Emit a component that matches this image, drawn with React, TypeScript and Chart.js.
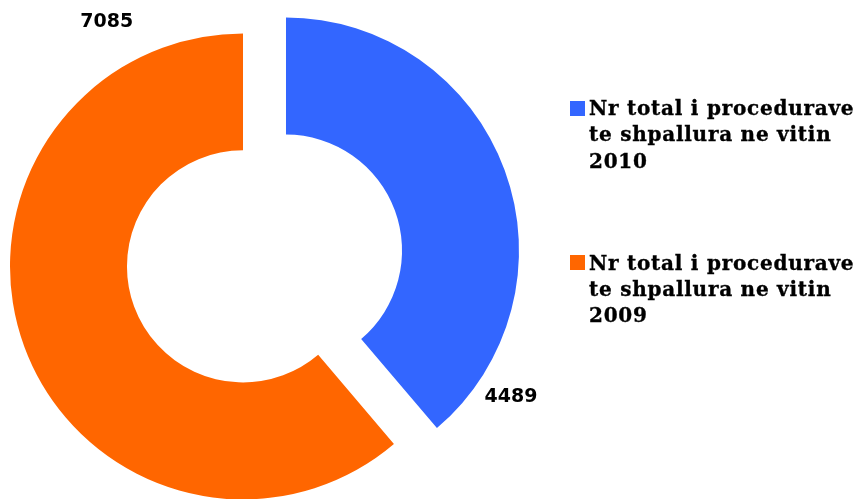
import React, { useEffect, useRef } from "react";
import { Chart, registerables } from "chart.js";

Chart.register(...registerables);

const categories = [
  "Nr total i procedurave te shpallura ne vitin 2010",
  "Nr total i procedurave te shpallura ne vitin 2009",
];
const values = [4489, 7085];
const colors = ["#3366FF", "#FF6600"];

const explodePlugin = {
  id: "explode",
  afterDatasetUpdate(chart: any, args: any, opts: any) {
    const meta = chart.getDatasetMeta(args.index);
    meta.data.forEach((arc: any) => {
      const half = (arc.startAngle + arc.endAngle) / 2;
      arc.x += Math.cos(half) * opts.distance;
      arc.y += Math.sin(half) * opts.distance;
    });
  },
};

const valueLabelPlugin = {
  id: "valueLabels",
  afterDatasetsDraw(chart: any, _args: any, opts: any) {
    const ctx = chart.ctx;
    const meta = chart.getDatasetMeta(0);
    const data = chart.data.datasets[0].data;
    ctx.save();
    ctx.font = opts.font;
    ctx.fillStyle = opts.color;
    ctx.textAlign = "center";
    ctx.textBaseline = "alphabetic";
    meta.data.forEach((arc: any, i: number) => {
      const span = arc.endAngle - arc.startAngle;
      const ang = arc.endAngle - opts.frac[i] * span;
      const r = arc.outerRadius + opts.extra[i];
      const x = arc.x + Math.cos(ang) * r;
      const y = arc.y + Math.sin(ang) * r;
      ctx.fillText(String(data[i]), x, y + opts.baselineShift);
    });
    ctx.restore();
  },
};

export default function App() {
  const ref = useRef<HTMLCanvasElement | null>(null);
  useEffect(() => {
    if (!ref.current) return;
    const chart = new Chart(ref.current, {
      type: "doughnut",
      data: {
        labels: categories,
        datasets: [
          {
            data: values,
            backgroundColor: colors,
            borderWidth: 0,
            offset: 0,
            clip: false,
          } as any,
        ],
      },
      options: {
        animation: false,
        responsive: true,
        maintainAspectRatio: false,
        radius: 233,
        cutout: "49.8%",
        layout: { padding: { left: 0, right: 336, top: 18, bottom: 0 } },
        events: [],
        plugins: {
          legend: { display: false },
          tooltip: { enabled: false },
          explode: { distance: 22.9 },
          valueLabels: {
            font: "bold 19px 'DejaVu Sans'",
            color: "#000000",
            frac: [0.121, 0.1316],
            extra: [34.4, 48.2],
            baselineShift: 6.9,
          },
        } as any,
      } as any,
      plugins: [explodePlugin, valueLabelPlugin],
    });
    return () => chart.destroy();
  }, []);

  return (
    <div
      style={{
        position: "fixed",
        left: 0,
        top: 0,
        width: 865,
        height: 499,
        background: "#ffffff",
        overflow: "hidden",
      }}
    >
      <canvas ref={ref} style={{ width: 865, height: 499, display: "block" }} />
      {categories.map((c, i) => (
        <div
          key={c}
          style={{
            position: "absolute",
            left: 570,
            top: 95.2 + i * 154.3,
            display: "flex",
            alignItems: "flex-start",
          }}
        >
          <div
            style={{
              width: 15,
              height: 15,
              marginTop: 5.5,
              background: colors[i],
              flex: "none",
            }}
          />
          <div
            style={{
              marginLeft: 4,
              width: 278,
              font: "bold 20px 'DejaVu Serif'",
              letterSpacing: "0.75px",
              WebkitTextStroke: "0.35px #000",
              lineHeight: "26.3px",
              color: "#000000",
            }}
          >
            {c}
          </div>
        </div>
      ))}
    </div>
  );
}
